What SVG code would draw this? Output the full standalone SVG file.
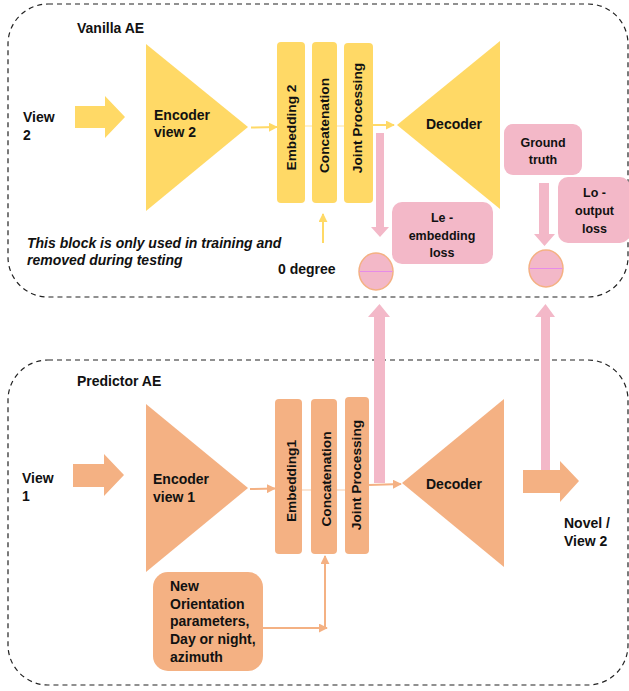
<svg xmlns="http://www.w3.org/2000/svg" width="629" height="691" viewBox="0 0 629 691">
<defs>
<style>
text{font-family:"Liberation Sans",Arial,sans-serif;font-weight:bold;fill:#111}
.t14{font-size:14px}
.rot{font-size:13.7px;text-anchor:middle}
.pk{font-size:12.5px;text-anchor:middle}
.it{font-size:14px;font-style:italic}
.frame{fill:none;stroke:#222;stroke-width:1.2;stroke-dasharray:5,4}
.y{fill:#FFD966}
.o{fill:#F4B183}
.p{fill:#F3B8C8}
.ly{stroke:#FFD966;stroke-width:2;fill:none}
.lo{stroke:#F4B183;stroke-width:2;fill:none}
.lyt{stroke:#FFE49A;stroke-width:1.2;fill:none}
.lot{stroke:#F8CBA8;stroke-width:1.2;fill:none}
.circ{fill:#F3B8C8;stroke:#F4B183;stroke-width:1.5}
.mid{stroke:#E68CE8;stroke-width:1}
</style>
<marker id="ay" viewBox="0 0 10 10" refX="9" refY="5" markerWidth="9" markerHeight="9" markerUnits="userSpaceOnUse" orient="auto"><path d="M0,0 L10,5 L0,10 z" fill="#FFD966"/></marker>
<marker id="ao" viewBox="0 0 10 10" refX="9" refY="5" markerWidth="9" markerHeight="9" markerUnits="userSpaceOnUse" orient="auto"><path d="M0,0 L10,5 L0,10 z" fill="#F4B183"/></marker>
</defs>
<rect width="629" height="691" fill="#fff"/>

<g id="vanilla-frame">
<rect class="frame" x="8" y="4" width="620" height="293" rx="40"/>
<text class="t14" x="77" y="33">Vanilla AE</text>
<text class="it" x="27" y="248">This block is only used in training and</text>
<text class="it" x="27" y="265">removed during testing</text>
</g>
<g id="predictor-frame">
<rect class="frame" x="8" y="360" width="620" height="325" rx="40"/>
<text class="t14" x="77" y="386">Predictor AE</text>
</g>

<g id="connectors">
<line class="ly" x1="251" y1="127.5" x2="277" y2="127" marker-end="url(#ay)"/>
<line class="lyt" x1="305" y1="126" x2="344" y2="126"/>
<line class="ly" x1="373" y1="125" x2="394" y2="125" marker-end="url(#ay)"/>
<line class="ly" x1="323" y1="243" x2="323" y2="214" marker-end="url(#ay)"/>
<line class="lo" x1="250" y1="489" x2="275" y2="488.5" marker-end="url(#ao)"/>
<line class="lot" x1="302" y1="490" x2="345" y2="490"/>
<line class="lo" x1="369" y1="485" x2="401" y2="484" marker-end="url(#ao)"/>
<line class="lo" x1="263" y1="628" x2="327" y2="628" marker-end="url(#ao)"/>
<line class="lo" x1="325" y1="628" x2="325" y2="556" marker-end="url(#ao)"/>
<polygon class="p" points="376,133 384,133 384,227 389,227 380,237 371,227 376,227"/>
<polygon class="p" points="539,183 549,183 549,234 555,234 544.5,246 534,234 539,234"/>
<polygon class="p" points="374,483 385,483 385,317 390,317 379.5,304 368,317 374,317"/>
<polygon class="p" points="541,470 550,470 550,317 555,317 545.5,304 535,317 541,317"/>
</g>

<g id="view2">
<polygon class="y" points="75,106 105,106 105,96 125,117 105,138 105,128 75,128"/>
<text class="t14" x="23" y="122">View</text>
<text class="t14" x="23" y="140">2</text>
</g>
<g id="encoder2">
<polygon class="y" points="146,44 248,127 146,211"/>
<text class="t14" x="154" y="120">Encoder</text>
<text class="t14" x="154" y="137">view 2</text>
</g>
<g id="embedding2">
<rect class="y" x="277" y="42" width="28" height="161" rx="4"/>
<text class="rot" transform="translate(296,127.5) rotate(-90)">Embedding 2</text>
</g>
<g id="concat-top">
<rect class="y" x="312" y="42" width="25" height="161" rx="4"/>
<text class="rot" transform="translate(329,125.5) rotate(-90)">Concatenation</text>
</g>
<g id="joint-top">
<rect class="y" x="344" y="43" width="29" height="160" rx="4"/>
<text class="rot" transform="translate(362,118) rotate(-90)">Joint Processing</text>
</g>
<g id="decoder-top">
<polygon class="y" points="397,125 500,41 500,209"/>
<text class="t14" x="426" y="129">Decoder</text>
</g>
<g id="zero-degree">
<text class="t14" x="278" y="274">0 degree</text>
</g>
<g id="le-loss">
<rect class="p" x="392" y="202" width="101" height="62" rx="10"/>
<text class="pk" x="442" y="222">Le -</text>
<text class="pk" x="442" y="239.5">embedding</text>
<text class="pk" x="442" y="257">loss</text>
</g>
<g id="ground-truth">
<rect class="p" x="504" y="124" width="78" height="51" rx="9"/>
<text class="pk" x="543" y="146.5">Ground</text>
<text class="pk" x="543" y="164">truth</text>
</g>
<g id="lo-loss">
<rect class="p" x="558" y="177" width="72" height="66" rx="10"/>
<text class="pk" x="594.5" y="197">Lo -</text>
<text class="pk" x="594.5" y="215">output</text>
<text class="pk" x="594.5" y="233">loss</text>
</g>
<g id="compare-le">
<ellipse class="circ" cx="376" cy="271.5" rx="17" ry="18.5"/>
<line class="mid" x1="359.5" y1="271.5" x2="392.5" y2="271.5"/>
</g>
<g id="compare-lo">
<ellipse class="circ" cx="546" cy="268.5" rx="17" ry="18.5"/>
<line class="mid" x1="529.5" y1="268.5" x2="562.5" y2="268.5"/>
</g>

<g id="view1">
<polygon class="o" points="73,464 104,464 104,454 124,475 104,496 104,487 73,487"/>
<text class="t14" x="22" y="483">View</text>
<text class="t14" x="22" y="501">1</text>
</g>
<g id="encoder1">
<polygon class="o" points="146,404 248,488 146,572"/>
<text class="t14" x="153" y="484">Encoder</text>
<text class="t14" x="153" y="502">view 1</text>
</g>
<g id="embedding1">
<rect class="o" x="275" y="399" width="27" height="155" rx="4"/>
<text class="rot" transform="translate(296,481) rotate(-90)">Embedding1</text>
</g>
<g id="concat-bottom">
<rect class="o" x="311" y="399" width="26" height="155" rx="4"/>
<text class="rot" transform="translate(331,479) rotate(-90)">Concatenation</text>
</g>
<g id="joint-bottom">
<rect class="o" x="345" y="397" width="24" height="157" rx="4"/>
<text class="rot" transform="translate(361,475) rotate(-90)">Joint Processing</text>
</g>
<g id="decoder-bottom">
<polygon class="o" points="402,483 504,399 504,567"/>
<text class="t14" x="426" y="489">Decoder</text>
</g>
<g id="output">
<polygon class="o" points="523,470 560,470 560,461 579,481 560,502 560,493 523,493"/>
<text class="t14" x="564" y="528">Novel /</text>
<text class="t14" x="564" y="546">View 2</text>
</g>
<g id="orientation">
<rect class="o" x="153" y="572" width="110" height="99" rx="15"/>
<text class="t14" x="170" y="591">New</text>
<text class="t14" x="170" y="608.5">Orientation</text>
<text class="t14" x="170" y="626">parameters,</text>
<text class="t14" x="170" y="644">Day or night,</text>
<text class="t14" x="170" y="662">azimuth</text>
</g>
</svg>
